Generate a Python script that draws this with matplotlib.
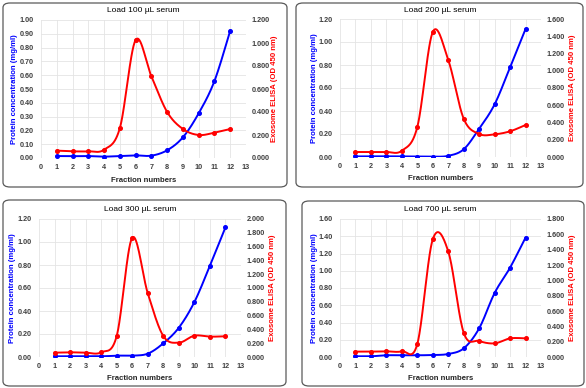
import numpy as np
import matplotlib
matplotlib.use("Agg")
import matplotlib.pyplot as plt
from matplotlib.patches import FancyBboxPatch

plt.rcParams["font.family"] = ["Liberation Sans", "DejaVu Sans"]

fractions = [1, 2, 3, 4, 5, 6, 7, 8, 9, 10, 11, 12]

titles = ["Load 100 µL serum", "Load 200 µL serum", "Load 300 µL serum", "Load 700 µL serum"]

protein_100 = [0.014, 0.013, 0.014, 0.010, 0.014, 0.019, 0.017, 0.056, 0.150, 0.324, 0.558, 0.923]
exosome_100 = [0.064, 0.058, 0.058, 0.072, 0.260, 1.026, 0.710, 0.400, 0.252, 0.200, 0.220, 0.252]

protein_200 = [0.005, 0.005, 0.006, 0.005, 0.004, 0.003, 0.010, 0.067, 0.246, 0.458, 0.780, 1.113]
exosome_200 = [0.058, 0.058, 0.058, 0.073, 0.348, 1.449, 1.125, 0.444, 0.267, 0.263, 0.298, 0.371]

protein_300 = [0.006, 0.006, 0.006, 0.006, 0.012, 0.012, 0.029, 0.119, 0.255, 0.478, 0.794, 1.128]
exosome_300 = [0.063, 0.068, 0.063, 0.068, 0.304, 1.729, 0.923, 0.304, 0.208, 0.309, 0.295, 0.300]

protein_700 = [0.008, 0.008, 0.020, 0.020, 0.020, 0.023, 0.035, 0.100, 0.332, 0.742, 1.036, 1.384]
exosome_700 = [0.070, 0.070, 0.074, 0.074, 0.170, 1.535, 1.378, 0.317, 0.209, 0.178, 0.243, 0.243]

left_max = [1.00, 1.20, 1.20, 1.60]
left_step = [0.10, 0.20, 0.20, 0.20]
right_max = [1.2, 1.6, 2.0, 1.8]
right_step = [0.2, 0.2, 0.2, 0.2]

proteins = [protein_100, protein_200, protein_300, protein_700]
exosomes = [exosome_100, exosome_200, exosome_300, exosome_700]

W, H = 586, 388
fig = plt.figure(figsize=(W / 100, H / 100), dpi=100)

boxes = [(3, 3, 287, 187), (296, 3, 583, 187), (3, 200, 286, 386), (302, 201, 584, 386)]
axes_px = [(41, 20, 246, 158), (340, 19, 541, 157), (39, 219, 241, 357), (340, 219, 541, 357)]
right_label_off = [28, 31, 32, 32]

BLUE = "#0000ff"
RED = "#ff0000"
TICKC = "#404040"


def smooth(x, y, n=30):
    x = np.asarray(x, float)
    y = np.asarray(y, float)
    P = np.column_stack([x, y])
    out = []
    m = len(P)
    for i in range(m - 1):
        p0 = P[i - 1] if i > 0 else P[i]
        p1 = P[i]
        p2 = P[i + 1]
        p3 = P[i + 2] if i + 2 < m else P[i + 1]
        c1 = p1 + (p2 - p0) / 6.0
        c2 = p2 - (p3 - p1) / 6.0
        t = np.linspace(0, 1, n, endpoint=(i == m - 2))[:, None]
        seg = ((1 - t) ** 3) * p1 + 3 * ((1 - t) ** 2) * t * c1 + 3 * (1 - t) * t ** 2 * c2 + t ** 3 * p2
        out.append(seg)
    out = np.vstack(out)
    return out[:, 0], out[:, 1]


for k in range(4):
    bx0, by0, bx1, by1 = boxes[k]
    patch = FancyBboxPatch((bx0 / W, 1 - by1 / H), (bx1 - bx0) / W, (by1 - by0) / H,
                           boxstyle="round,pad=0,rounding_size=0.012",
                           transform=fig.transFigure, facecolor="white",
                           edgecolor="#595959", linewidth=0.9, zorder=-5)
    fig.patches.append(patch)

    ax0, ay0, ax1, ay1 = axes_px[k]
    aw, ah = ax1 - ax0, ay1 - ay0
    ax = fig.add_axes([ax0 / W, 1 - ay1 / H, aw / W, ah / H])
    ax2 = ax.twinx()
    ax.set_zorder(1)
    ax2.set_zorder(2)
    ax.patch.set_visible(False)
    ax2.patch.set_visible(False)

    ax.set_xlim(0, 13)
    ax.set_ylim(0, left_max[k])
    ax2.set_ylim(0, right_max[k])
    ax.set_xticks(range(0, 14))
    lt = np.arange(0, left_max[k] + 1e-9, left_step[k])
    ax.set_yticks(lt)
    ax.set_yticklabels([f"{v:.2f}" for v in lt])
    rt = np.arange(0, right_max[k] + 1e-9, right_step[k])
    ax2.set_yticks(rt)
    ax2.set_yticklabels([f"{v:.3f}" for v in rt])

    ax.grid(True, color="#e4e4e4", linewidth=0.6)
    ax.set_axisbelow(True)
    for a in (ax, ax2):
        for s in a.spines.values():
            s.set_visible(False)
        a.tick_params(length=0, labelsize=5.2, colors=TICKC)
        for lab in a.get_xticklabels() + a.get_yticklabels():
            lab.set_fontweight("bold")
    ax.tick_params(axis="y", pad=5)
    ax.tick_params(axis="x", pad=4)
    ax2.tick_params(axis="y", pad=4)

    xs, ys = smooth(fractions, proteins[k])
    ax.plot(xs, ys, color=BLUE, linewidth=1.4, zorder=3)
    ax.plot(fractions, proteins[k], "o", color=BLUE, markersize=2.6, zorder=4)
    xs, ys = smooth(fractions, exosomes[k])
    ax2.plot(xs, ys, color=RED, linewidth=1.4, zorder=3)
    ax2.plot(fractions, exosomes[k], "o", color=RED, markersize=2.6, zorder=4)

    ax.text(0.5, 1 + 9 / ah, titles[k], transform=ax.transAxes, fontsize=6.0,
            color="black", ha="center", va="center")
    ax.set_xlabel("Fraction numbers", fontsize=5.6, fontweight="bold", color="#262626")
    ax.xaxis.set_label_coords(0.5, -22 / ah)
    ax.xaxis.label.set_va("center")
    ax.set_ylabel("Protein concentration (mg/ml)", fontsize=5.6, fontweight="bold", color=BLUE)
    ax.yaxis.set_label_coords(-26 / aw, 0.5)
    ax.yaxis.label.set_va("center")
    ax2.set_ylabel("Exosome ELISA (OD 450 nm)", fontsize=5.6, fontweight="bold", color=RED)
    ax2.yaxis.set_label_coords(1 + right_label_off[k] / aw, 0.5)
    ax2.yaxis.label.set_va("center")

fig.savefig("out.png", dpi=100, facecolor="white")
